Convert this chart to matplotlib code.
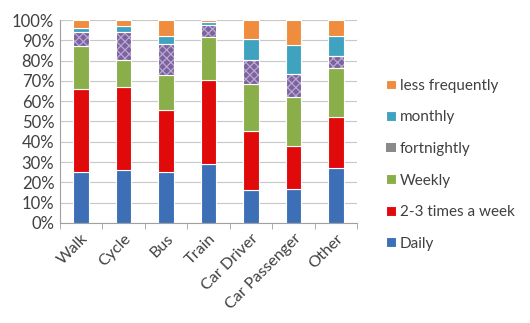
import matplotlib.pyplot as plt
import numpy as np

plt.rcParams['font.family'] = ['Lato', 'DejaVu Sans']
plt.rcParams['hatch.linewidth'] = 0.9

modes = ["Walk", "Cycle", "Bus", "Train", "Car Driver", "Car Passenger", "Other"]

# share of respondents per frequency (%)
daily = [25, 26, 25, 29, 16, 16.5, 27]
two_three = [41, 41, 30.5, 41.5, 29.5, 21.5, 25]
weekly = [21, 13.5, 17.5, 21, 23, 24, 24.5]
fortnightly = [7, 13.5, 15, 6, 12, 11.5, 6]
monthly = [2, 3, 4, 1.5, 10, 14, 9.5]
less_freq = [4, 3, 8, 1, 9.5, 12.5, 8]

series = [
    ("Daily", daily, "#3d6fb6", None),
    ("2-3 times a week", two_three, "#e00a0a", None),
    ("Weekly", weekly, "#8aae4a", None),
    ("fortnightly", fortnightly, "#7d62a0", "xxxx"),
    ("monthly", monthly, "#3fa3c0", None),
    ("less frequently", less_freq, "#ef8c3d", None),
]

fig = plt.figure(figsize=(5.3, 3.23), dpi=100)
ax = fig.add_axes([0.113, 0.31, 0.561, 0.628])

x = np.arange(len(modes))
bottom = np.zeros(len(modes))
for name, vals, color, hatch in series:
    vals = np.array(vals, dtype=float)
    if hatch:
        # hatch drawn in a light lavender, white outline on top
        ax.bar(x, vals, 0.36, bottom=bottom, color=color, edgecolor="#b9a9d0",
               linewidth=0, hatch=hatch, zorder=3)
        ax.bar(x, vals, 0.36, bottom=bottom, color="none", edgecolor="white",
               linewidth=0.8, zorder=4)
        ax.bar([0], [0], color="#8a8a8a", label=name)
    else:
        ax.bar(x, vals, 0.36, bottom=bottom, color=color, edgecolor="white",
               linewidth=0.8, label=name, zorder=3)
    bottom += vals

ax.set_ylim(0, 100)
ax.set_xlim(-0.5, len(modes) - 0.5)
ax.set_yticks(range(0, 101, 10))
ax.set_yticklabels([f"{v}%" for v in range(0, 101, 10)], fontsize=12, color="#404040")
ax.yaxis.grid(True, color="#c8c8c8", linewidth=0.8, zorder=0)
ax.tick_params(axis="y", length=0, pad=4)

ax.set_xticks(x)
ax.set_xticklabels(modes, rotation=45, ha="right", rotation_mode="anchor",
                   fontsize=11.5, color="#404040")
ax.tick_params(axis="x", length=0, pad=6)
ax.set_xticks(np.arange(-0.5, len(modes)), minor=True)
ax.tick_params(axis="x", which="minor", length=4, color="#a0a0a0")

for side in ("top", "right"):
    ax.spines[side].set_visible(False)
for side in ("left", "bottom"):
    ax.spines[side].set_color("#a0a0a0")

handles, labels = ax.get_legend_handles_labels()
order = ["less frequently", "monthly", "fortnightly", "Weekly", "2-3 times a week", "Daily"]
hmap = dict(zip(labels, handles))
fig.legend([hmap[k] for k in order], order, loc="center left",
           bbox_to_anchor=(0.703, 0.49), frameon=False, fontsize=11,
           handlelength=0.6, handleheight=0.6, handletextpad=0.3,
           labelspacing=1.15, labelcolor="#404040")

fig.savefig("out.png", dpi=100)
